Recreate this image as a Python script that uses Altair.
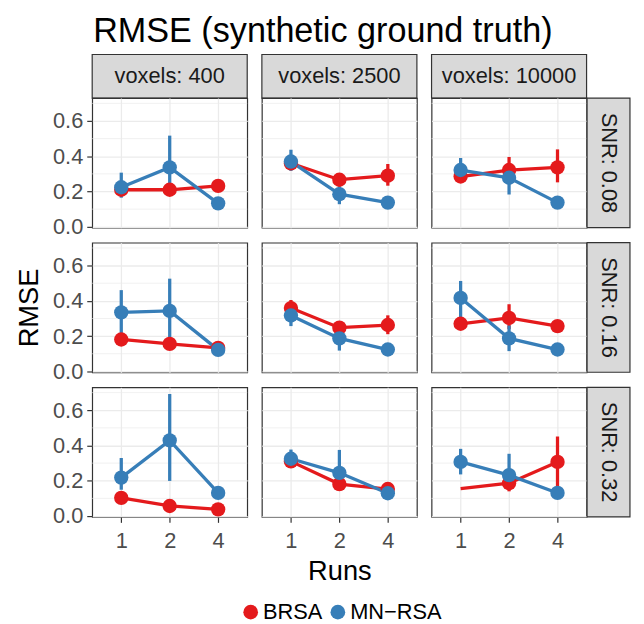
import altair as alt
import pandas as pd

# ---------------- data ----------------
snr_levels = [0.08, 0.16, 0.32]
voxel_levels = [400, 2500, 10000]
runs = [1, 2, 4]
methods = ["BRSA", "MN\u2212RSA"]
method_colors = ["#E41A1C", "#377EB8"]

# [snr][voxels][runs]
brsa_mean = [
    [[0.210, 0.210, 0.232], [0.360, 0.267, 0.290], [0.285, 0.322, 0.337]],
    [[0.181, 0.156, 0.133], [0.359, 0.248, 0.263], [0.270, 0.304, 0.257]],
    [[0.103, 0.057, 0.038], [0.310, 0.181, 0.153], [0.155, 0.186, 0.307]],
]
brsa_lo = [
    [[0.190, 0.190, 0.210], [0.330, 0.240, 0.233], [0.260, 0.260, 0.252]],
    [[0.160, 0.140, 0.120], [0.320, 0.220, 0.211], [0.240, 0.240, 0.230]],
    [[0.080, 0.040, 0.020], [0.280, 0.160, 0.130], [None, 0.140, 0.149]],
]
brsa_hi = [
    [[0.230, 0.230, 0.250], [0.390, 0.290, 0.356], [0.310, 0.396, 0.439]],
    [[0.200, 0.170, 0.145], [0.405, 0.280, 0.318], [0.300, 0.381, 0.280]],
    [[0.125, 0.075, 0.055], [0.340, 0.200, 0.175], [None, 0.220, 0.451]],
]
mn_mean = [
    [[0.224, 0.337, 0.133], [0.370, 0.185, 0.137], [0.322, 0.278, 0.137]],
    [[0.335, 0.343, 0.122], [0.317, 0.187, 0.124], [0.417, 0.187, 0.124]],
    [[0.218, 0.429, 0.131], [0.325, 0.245, 0.129], [0.307, 0.232, 0.131]],
]
mn_lo = [
    [[0.165, 0.200, 0.120], [0.317, 0.128, 0.125], [0.257, 0.183, 0.125]],
    [[0.200, 0.190, 0.110], [0.257, 0.118, 0.110], [0.300, 0.115, 0.110]],
    [[0.149, 0.199, 0.110], [0.290, 0.200, 0.110], [0.236, 0.200, 0.110]],
]
mn_hi = [
    [[0.307, 0.517, 0.145], [0.437, 0.230, 0.150], [0.390, 0.310, 0.150]],
    [[0.461, 0.526, 0.135], [0.370, 0.250, 0.140], [0.513, 0.260, 0.140]],
    [[0.329, 0.692, 0.150], [0.377, 0.375, 0.150], [0.381, 0.353, 0.150]],
]
# (method, snr, voxels, runs) whose dot is not drawn in the original
missing_points = [("BRSA", 0.32, 10000, 1)]

y_major = [0.0, 0.2, 0.4, 0.6]
y_minor = [0.1, 0.3, 0.5, 0.7]

# ---------------- table ----------------
rows = []
for i, snr in enumerate(snr_levels):
    for j, vox in enumerate(voxel_levels):
        for k, r in enumerate(runs):
            for m, mean, lo, hi in [
                (methods[0], brsa_mean, brsa_lo, brsa_hi),
                (methods[1], mn_mean, mn_lo, mn_hi),
            ]:
                rows.append(dict(snr=snr, voxels=vox, runs=r, method=m,
                                 rmse=mean[i][j][k], lo=lo[i][j][k], hi=hi[i][j][k],
                                 show=(m, snr, vox, r) not in missing_points))
df = pd.DataFrame(rows)

# ---------------- style ----------------
FONT = "Liberation Sans"
PW, PH = 156.5, 130.8
GAP_X, GAP_Y = 14.3, 15.0
STRIP_H, STRIP_W = 44.0, 43.3
STRIP_FILL = "#d9d9d9"
BORDER = "#333333"
GRID = "#ebebeb"
LW = 3.3
PT = 210
LEG_H = 82
LEG_Y = 81

yscale = alt.Scale(domain=[-0.005, 0.73], nice=False, zero=False)
xscale = alt.Scale(type="point", padding=0.6, domain=runs)
cscale = alt.Scale(domain=methods, range=method_colors)
NOVIEW = alt.ViewBackground(stroke=None, fill=None)


def panel(i, j):
    snr, vox = snr_levels[i], voxel_levels[j]
    d = df[(df.snr == snr) & (df.voxels == vox)]
    show_y = j == 0
    show_x = i == len(snr_levels) - 1
    if show_y:
        yaxis = alt.Axis(values=y_major, format=".1f", grid=True,
                         title="RMSE" if i == 1 else None,
                         labelFontSize=22, labelColor="#4d4d4d", tickColor=BORDER,
                         tickSize=5.5, tickWidth=1.2, labelPadding=4, domain=False,
                         titleFontSize=27.5, titleFontWeight="normal", titleColor="#000000",
                         titlePadding=9)
    else:
        yaxis = alt.Axis(values=y_major, grid=True, labels=False, ticks=False,
                         domain=False, title=None)
    if show_x:
        xaxis = alt.Axis(values=runs, grid=True, labelAngle=0,
                         title="Runs" if j == 1 else None,
                         labelFontSize=22, labelColor="#4d4d4d", tickColor=BORDER,
                         tickSize=5.5, tickWidth=1.2, labelPadding=8, domain=False,
                         titleFontSize=27.5, titleFontWeight="normal", titleColor="#000000",
                         titlePadding=7)
    else:
        xaxis = alt.Axis(values=runs, grid=True, labels=False, ticks=False,
                         domain=False, title=None)

    x = alt.X("runs:O", scale=xscale, axis=xaxis)
    minor = alt.Chart(pd.DataFrame({"v": y_minor})).mark_rule(
        color=GRID, strokeWidth=0.7
    ).encode(y=alt.Y("v:Q", scale=yscale, axis=yaxis))
    base = alt.Chart(d)
    line = base.mark_line(strokeWidth=LW).encode(
        x=x, y=alt.Y("rmse:Q", scale=yscale),
        stroke=alt.Stroke("method:N", scale=cscale, legend=None),
        order=alt.Order("runs:O"),
    )
    err = base.transform_filter("isValid(datum.lo)").mark_rule(strokeWidth=LW).encode(
        x=x, y=alt.Y("lo:Q", scale=yscale), y2="hi:Q",
        stroke=alt.Stroke("method:N", scale=cscale, legend=None),
    )
    pts = base.transform_filter("datum.show").mark_circle(size=PT, opacity=1).encode(
        x=x, y=alt.Y("rmse:Q", scale=yscale),
        color=alt.Color("method:N", scale=cscale, legend=None),
    )
    return alt.layer(minor, line, err, pts).properties(width=PW, height=PH)


def top_strip(j):
    # cell is shorter than the strip; the box runs down through the row gap
    d = pd.DataFrame({"label": [f"voxels: {voxel_levels[j]}"]})
    h = STRIP_H - GAP_Y
    box = alt.Chart(d).mark_rect(fill=STRIP_FILL, stroke=BORDER, strokeWidth=1.2).encode(
        x=alt.value(0), x2=alt.value(PW), y=alt.value(0), y2=alt.value(STRIP_H))
    txt = alt.Chart(d).mark_text(font=FONT, fontSize=22, color="#1a1a1a",
                                 baseline="middle", align="center").encode(
        text="label:N", x=alt.value(PW / 2), y=alt.value(STRIP_H / 2))
    return alt.layer(box, txt, view=NOVIEW).properties(width=PW, height=h)


def right_strip(i):
    # cell is narrower than the strip; the box runs left through the column gap
    d = pd.DataFrame({"label": [f"SNR: {snr_levels[i]}"]})
    w = STRIP_W - GAP_X
    box = alt.Chart(d).mark_rect(fill=STRIP_FILL, stroke=BORDER, strokeWidth=1.2).encode(
        x=alt.value(-GAP_X), x2=alt.value(w), y=alt.value(0), y2=alt.value(PH))
    txt = alt.Chart(d).mark_text(font=FONT, fontSize=22, color="#1a1a1a", angle=90,
                                 baseline="middle", align="center").encode(
        text="label:N", x=alt.value(w - STRIP_W / 2), y=alt.value(PH / 2))
    return alt.layer(box, txt, view=NOVIEW).properties(width=w, height=PH)


def blank(w, h):
    d = pd.DataFrame({"t": [""]})
    return alt.Chart(d, view=NOVIEW).mark_text().encode(text="t:N").properties(
        width=w, height=h)


def legend_cell():
    d = pd.DataFrame({"method": methods})
    lx = alt.X("method:N", scale=alt.Scale(type="point", padding=0, domain=methods,
                                           range=[160, 248]), axis=None)
    sym = alt.Chart(d).mark_circle(size=220, opacity=1).encode(
        x=lx, y=alt.value(LEG_Y),
        color=alt.Color("method:N", scale=cscale, legend=None))
    lab = alt.Chart(d).mark_text(font=FONT, fontSize=22, color="#000000", align="left",
                                 baseline="middle", dx=12.5).encode(
        x=lx, y=alt.value(LEG_Y), text="method:N")
    return alt.layer(sym, lab, view=NOVIEW).properties(width=PW, height=LEG_H)


cells = [top_strip(j) for j in range(3)] + [blank(STRIP_W - GAP_X, STRIP_H - GAP_Y)]
for i in range(3):
    cells += [panel(i, 0), panel(i, 1), panel(i, 2), right_strip(i)]
cells += [legend_cell()]

grid = alt.concat(*cells, columns=4, spacing={"row": GAP_Y, "column": GAP_X},
                  bounds="flush", align="each")

chart = grid.properties(
    title=alt.TitleParams("RMSE (synthetic ground truth)", anchor="start", frame="group",
                          fontSize=34.5, font=FONT, fontWeight="normal", color="#000000",
                          offset=5, dx=1),
    padding={"left": 7, "top": 2, "right": 5, "bottom": 0},
).configure_view(
    stroke=BORDER, strokeWidth=1.2
).configure_axis(
    labelFont=FONT, titleFont=FONT, gridColor=GRID, gridWidth=1.3
).configure_text(font=FONT)

chart.save("out.html", embed_options={"renderer": "svg", "actions": False})
